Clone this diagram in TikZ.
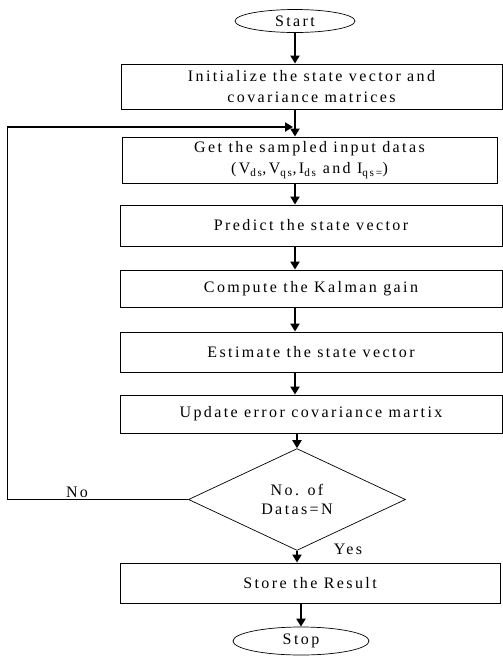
\documentclass[tikz,border=0pt]{standalone}
\usepackage{fontspec}
\setmainfont{Liberation Serif}[LetterSpace=15]
\usetikzlibrary{shapes.geometric,arrows.meta}
\begin{document}
\begin{tikzpicture}[x=1pt,y=-1pt,
  box/.style={draw, line width=0.9pt, rectangle, align=center, font=\fontsize{16}{21}\selectfont, inner sep=0pt},
  term/.style={draw, line width=0.7pt, ellipse, inner sep=0pt, font=\fontsize{16}{18}\selectfont},
  dec/.style={draw, line width=0.7pt, diamond, inner sep=0pt, align=center, font=\fontsize{16}{19}\selectfont},
  arr/.style={line width=2pt, -{Triangle[length=8pt,width=9pt]}},
  thin/.style={line width=1pt},
  lbl/.style={font=\fontsize{16}{18}\selectfont, inner sep=0pt}]
\useasboundingbox (0,0) rectangle (503,657);
\node[term, minimum width=120pt, minimum height=23pt] (start) at (295,21) {Start};
\node[box, minimum width=381pt, minimum height=45pt] (init) at (311.5,86.5) {Initialize the state vector and\\covariance matrices};
\node[box, minimum width=375pt, minimum height=46pt] (get) at (309.5,160) {Get the sampled input datas\\(V\textsubscript{ds},V\textsubscript{qs},I\textsubscript{ds} and I\textsubscript{qs=})};
\node[box, minimum width=382pt, minimum height=41pt] (pred) at (311,225.5) {Predict the state vector};
\node[box, minimum width=382pt, minimum height=37pt] (comp) at (311,288.5) {Compute the Kalman gain};
\node[box, minimum width=382pt, minimum height=40pt] (est) at (311,352) {Estimate the state vector};
\node[box, minimum width=382pt, minimum height=38pt] (upd) at (311,414) {Update error covariance martix};
\node[dec, minimum width=217pt, minimum height=83pt] (chk) at (297,499.5) {No. of\\Datas=N};
\node[box, minimum width=380pt, minimum height=40pt] (store) at (310,583) {Store the Result};
\node[term, minimum width=136pt, minimum height=28pt] (stop) at (301,641) {Stop};
\node[lbl] (no) at (77,492) {No};
\node[lbl] (yes) at (348,549) {Yes};
\coordinate (ax) at (295,0);
\coordinate (lp) at (7,127);
\draw[arr] (start.south) -- (start.south |- init.north);
\draw[arr] (init.south -| ax) -- (get.north -| ax);
\draw[arr] (get.south -| ax) -- (pred.north -| ax);
\draw[arr] (pred.south -| ax) -- (comp.north -| ax);
\draw[arr] (comp.south -| ax) -- (est.north -| ax);
\draw[arr] (est.south -| ax) -- (upd.north -| ax);
\draw[arr] (upd.south -| chk.north) -- (chk.north);
\draw[arr] (chk.south) -- (chk.south |- store.north);
\draw[arr] (store.south -| stop.north) -- (stop.north);
\draw[thin] (chk.west) -| (lp);
\draw[arr] (lp) -- ([xshift=-2pt]ax |- lp);
\end{tikzpicture}
\end{document}
